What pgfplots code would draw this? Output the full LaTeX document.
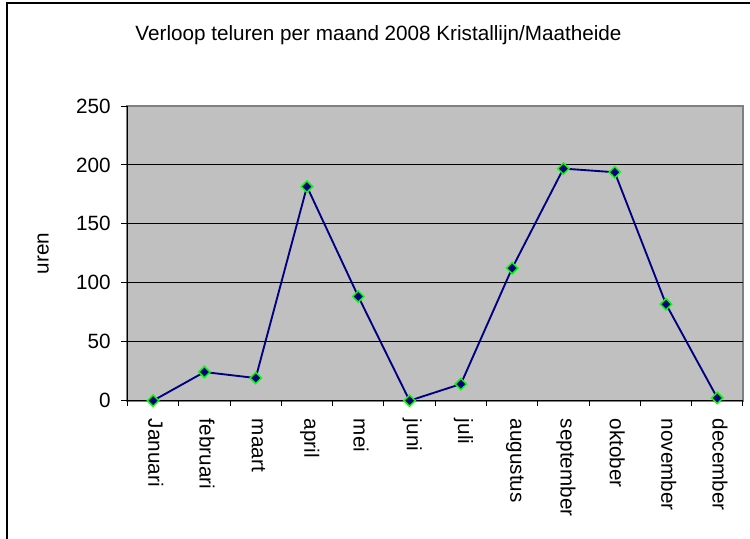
\documentclass[border=0pt]{standalone}
\usepackage{fontspec}
\setmainfont{Liberation Sans}
\usepackage{pgfplots}
\pgfplotsset{compat=1.18}
\definecolor{plotbg}{HTML}{C0C0C0}
\definecolor{bordergray}{HTML}{808080}
\definecolor{navyline}{HTML}{000080}
\definecolor{markgreen}{HTML}{00FF00}
\begin{document}
\begin{tikzpicture}
\useasboundingbox (-95.6pt,-103.7pt) rectangle (466.9pt,300.5pt);
\draw[black, line width=1pt] (-90.4pt,-103.7pt) -- (-90.4pt,298.3pt) -- (466.9pt,298.3pt);
\begin{axis}[
  scale only axis,
  width=461.6pt, height=221pt,
  at={(0,0)}, anchor=south west,
  font=\fontsize{15.5}{18}\selectfont,
  /pgf/number format/assume math mode=true,
  xmin=-0.5, xmax=11.5,
  ymin=0, ymax=250,
  xtick={0,...,11},
  xticklabels={Januari,februari,maart,april,mei,juni,juli,augustus,september,oktober,november,december},
  minor xtick={-0.5,0.5,...,11.5},
  ytick={0,50,...,250},
  extra y ticks={50,100,150,200},
  extra y tick labels={},
  extra y tick style={ymajorgrids=true, major grid style={black, line width=0.75pt}},
  tick align=outside,
  major tick length=4.5pt,
  minor tick length=3.75pt,
  major x tick style={draw=none},
  minor x tick style={black, line width=0.75pt},
  major y tick style={black, line width=0.75pt},
  axis lines*=left,
  axis line style={-, black, line width=0.75pt},
  axis background/.style={fill=plotbg, draw=bordergray, line width=1.5pt},
  xticklabel style={rotate=-90, anchor=west, inner sep=0pt, xshift=9pt, yshift=2pt},
  yticklabel style={anchor=east, inner sep=0pt, xshift=-8pt},
  ylabel={uren},
  every axis y label/.style={at={(axis description cs:-0.137,0.5)}, rotate=90, anchor=center},
  clip=false,
]
\addplot[navyline, line width=1.4pt, mark=square*, mark size=3pt,
  mark options={rotate=45, fill=navyline, draw=markgreen, line width=1.1pt, solid}]
  coordinates {(0,0) (1,24.3) (2,19.2) (3,181.6) (4,88.4) (5,0) (6,14.1) (7,112.4) (8,196.9) (9,193.8) (10,81.9) (11,2.3)};
\end{axis}
\node[anchor=base, font=\fontsize{15.5}{18}\selectfont] at (188.25pt,270pt) {Verloop teluren per maand 2008 Kristallijn/Maatheide};
\end{tikzpicture}
\end{document}
